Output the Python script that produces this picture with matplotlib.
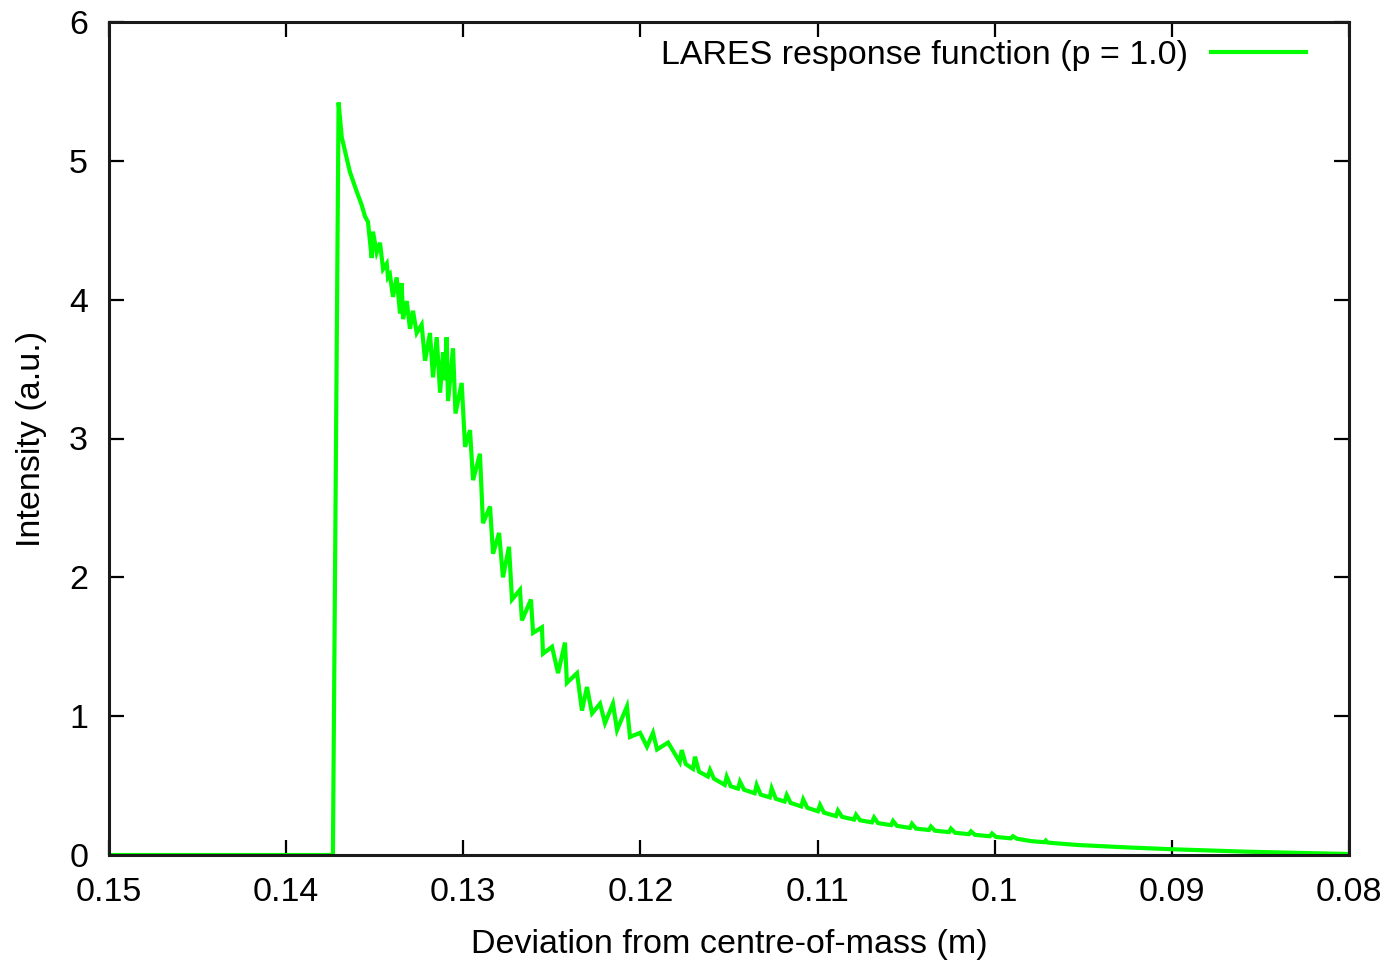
import matplotlib
matplotlib.use("Agg")
import matplotlib.pyplot as plt

plt.rcParams['font.family'] = ['Liberation Sans', 'DejaVu Sans']

# Data (deviation in m, intensity a.u.)
deviation = [
    0.15000, 0.13736, 0.13704,
    0.13686, 0.13640, 0.13602, 0.13573, 0.13555, 0.13538, 0.13517, 0.13510,
    0.13489, 0.13470, 0.13453, 0.13432, 0.13425, 0.13414, 0.13397, 0.13376,
    0.13357, 0.13348, 0.13340, 0.13319, 0.13301, 0.13284, 0.13263, 0.13235,
    0.13216, 0.13188, 0.13171, 0.13150, 0.13131, 0.13114, 0.13106, 0.13094,
    0.13086, 0.13058, 0.13044, 0.13009, 0.12990, 0.12962, 0.12945, 0.12906,
    0.12889,
    0.12849, 0.12832, 0.12798, 0.12776, 0.12742, 0.12725, 0.12680, 0.12669,
    0.12618, 0.12606, 0.12556, 0.12550, 0.12499, 0.12465, 0.12426, 0.12415,
    0.12358, 0.12330, 0.12302, 0.12273, 0.12228, 0.12200, 0.12155, 0.12132,
    0.12076, 0.12059, 0.12002, 0.11963, 0.11929, 0.11906, 0.11844,
    0.11778, 0.11767, 0.11744, 0.11703, 0.11692, 0.11669,
    0.11619, 0.11607, 0.11585, 0.11524, 0.11513, 0.11490,
    0.11449, 0.11438, 0.11415, 0.11355, 0.11344, 0.11321,
    0.11270, 0.11259, 0.11236, 0.11186, 0.11174, 0.11152,
    0.11092, 0.11081, 0.11058, 0.10998, 0.10986, 0.10964,
    0.10896, 0.10885, 0.10862, 0.10794, 0.10783, 0.10760,
    0.10693, 0.10681, 0.10659, 0.10585, 0.10574, 0.10552,
    0.10478, 0.10467, 0.10444, 0.10371, 0.10360, 0.10337,
    0.10258, 0.10247, 0.10224, 0.10145, 0.10134, 0.10111,
    0.10027, 0.10015, 0.09993, 0.09908, 0.09897, 0.09874,
    0.09795, 0.09720, 0.09712, 0.09700, 0.09530, 0.09259, 0.08988,
    0.08581, 0.08000,
]
intensity = [
    0.0, 0.0, 5.42,
    5.17, 4.92, 4.78, 4.68, 4.60, 4.56, 4.30, 4.49,
    4.34, 4.41, 4.22, 4.26, 4.16, 4.18, 4.02, 4.16,
    3.90, 4.12, 3.86, 3.99, 3.79, 3.92, 3.76, 3.82,
    3.56, 3.76, 3.44, 3.73, 3.33, 3.62, 3.42, 3.73,
    3.27, 3.65, 3.18, 3.40, 2.94, 3.06, 2.70, 2.89,
    2.39,
    2.51, 2.17, 2.32, 2.00, 2.22, 1.84, 1.91, 1.69,
    1.84, 1.60, 1.64, 1.45, 1.50, 1.31, 1.53, 1.24,
    1.31, 1.04, 1.21, 1.02, 1.09, 0.95, 1.09, 0.90,
    1.07, 0.85, 0.88, 0.78, 0.88, 0.76, 0.81,
    0.670, 0.756, 0.655, 0.620, 0.708, 0.600,
    0.565, 0.612, 0.550, 0.505, 0.564, 0.495,
    0.478, 0.528, 0.470, 0.445, 0.504, 0.435,
    0.415, 0.480, 0.405, 0.385, 0.432, 0.375,
    0.350, 0.400, 0.340, 0.315, 0.360, 0.305,
    0.280, 0.320, 0.275, 0.255, 0.290, 0.250,
    0.235, 0.270, 0.230, 0.215, 0.245, 0.210,
    0.195, 0.225, 0.190, 0.180, 0.205, 0.175,
    0.165, 0.190, 0.160, 0.150, 0.170, 0.145,
    0.135, 0.155, 0.130, 0.120, 0.135, 0.117,
    0.100, 0.092, 0.104, 0.089, 0.072, 0.055, 0.041,
    0.024, 0.007,
]

x_ticks = [0.15, 0.14, 0.13, 0.12, 0.11, 0.10, 0.09, 0.08]
x_tick_labels = ["0.15", "0.14", "0.13", "0.12", "0.11", "0.1", "0.09", "0.08"]
y_ticks = [0, 1, 2, 3, 4, 5, 6]
series_label = "LARES response function (p = 1.0)"

fig = plt.figure(figsize=(13.88, 9.65), dpi=100)
ax = fig.add_axes([109/1388, 110/965, 1240/1388, 833/965])

ax.plot(deviation, intensity, color="#00ff00", lw=3.0, label=series_label,
        solid_joinstyle="miter", zorder=3)

ax.set_xlim(0.15, 0.08)
ax.set_ylim(0, 6)
ax.set_xticks(x_ticks)
ax.set_xticklabels(x_tick_labels)
ax.set_yticks(y_ticks)

fs = 24.5
ax.tick_params(direction="in", length=11, width=1.6, labelsize=fs,
               top=True, right=True, colors="black")
ax.tick_params(axis="x", pad=16)
ax.tick_params(axis="y", pad=15)
for s in ax.spines.values():
    s.set_linewidth(2.2)
    s.set_color("#1a1a1a")
    s.set_zorder(4)

ax.set_xlabel("Deviation from centre-of-mass (m)", fontsize=fs, labelpad=15)
ax.set_ylabel("Intensity (a.u.)", fontsize=fs, labelpad=16)

leg = ax.legend(loc="upper right", frameon=False, markerfirst=False,
                fontsize=fs, handlelength=2.8, handletextpad=0.68,
                borderaxespad=0.0, borderpad=0.4,
                bbox_to_anchor=(0.9766, 0.995))

fig.savefig("out.png", dpi=100)
